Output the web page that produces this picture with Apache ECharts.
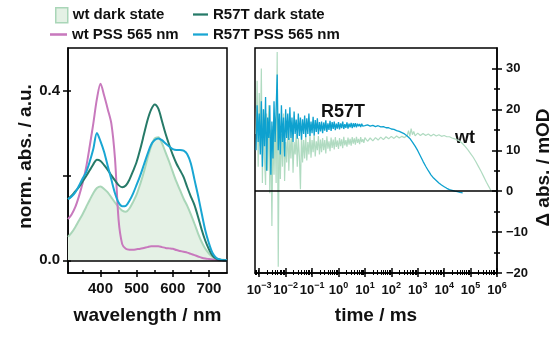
<!DOCTYPE html>
<html><head><meta charset="utf-8">
<script src="https://cdn.jsdelivr.net/npm/echarts@6/dist/echarts.min.js"></script>
<style>html,body{margin:0;padding:0;background:#fff}#c{width:554px;height:338px}</style>
</head><body><div id="c"></div>
<script>
// ---- left panel: absorption spectra ----
const wavelengths = [310,320,330,340,350,360,370,380,390,400,410,420,430,440,450,460,470,480,490,500,510,520,530,540,550,560,570,580,590,600,610,620,630,640,650,660,670,680,690,700,710,720,730,740,750];
const wtDark = [0.055,0.065,0.078,0.093,0.108,0.125,0.142,0.158,0.170,0.174,0.168,0.160,0.148,0.136,0.125,0.117,0.114,0.122,0.137,0.155,0.180,0.208,0.240,0.268,0.287,0.290,0.276,0.254,0.232,0.208,0.185,0.165,0.145,0.128,0.108,0.086,0.063,0.043,0.027,0.016,0.008,0.004,0.002,0.001,0.000];
const wtPSS = [0.097,0.108,0.125,0.150,0.180,0.218,0.268,0.322,0.380,0.416,0.388,0.356,0.322,0.240,0.095,0.038,0.027,0.025,0.025,0.026,0.027,0.029,0.031,0.033,0.033,0.033,0.031,0.029,0.028,0.027,0.024,0.022,0.020,0.018,0.015,0.012,0.009,0.006,0.004,0.003,0.002,0.001,0,0,0];
const r57tDark = [0.144,0.152,0.162,0.172,0.185,0.198,0.212,0.226,0.237,0.234,0.224,0.213,0.200,0.188,0.177,0.172,0.176,0.190,0.210,0.232,0.262,0.296,0.330,0.355,0.367,0.357,0.328,0.298,0.272,0.248,0.228,0.212,0.196,0.172,0.150,0.130,0.102,0.072,0.046,0.026,0.011,0.004,0.001,0,0];
const r57tPSS = [0.144,0.150,0.160,0.175,0.192,0.207,0.232,0.262,0.300,0.280,0.255,0.222,0.190,0.158,0.136,0.127,0.128,0.140,0.157,0.178,0.200,0.225,0.250,0.272,0.283,0.287,0.283,0.275,0.268,0.262,0.260,0.260,0.258,0.250,0.228,0.190,0.152,0.110,0.070,0.040,0.017,0.006,0.002,0,0];
const specMajorTicks = [400,500,600,700];
const specMinorTicks = [350,450,550,650];
const absTicks = [0,0.2,0.4];
const absLabels = [0,0.4];

// ---- right panel: transients, time given as exponent: t = 10^exp ms ----
const noiseExp = [-3.12,-3.08,-3.04,-3.00,-2.96,-2.92,-2.88,-2.84,-2.80,-2.76,-2.72,-2.68,-2.64,-2.60,-2.56,-2.52,-2.48,-2.44,-2.40,-2.36,-2.32,-2.28,-2.24,-2.20,-2.16,-2.12,-2.08,-2.04,-2.00,-1.96,-1.92,-1.88,-1.84,-1.80,-1.76,-1.72,-1.68,-1.64,-1.60,-1.56,-1.52,-1.48,-1.44,-1.40,-1.36,-1.32,-1.28,-1.24,-1.20,-1.16,-1.12,-1.08,-1.04,-1.00,-0.96,-0.92,-0.88,-0.84,-0.80,-0.76,-0.72,-0.68,-0.64,-0.60,-0.56,-0.52,-0.48,-0.44,-0.40,-0.36,-0.32,-0.28,-0.24,-0.20,-0.16,-0.12,-0.08,-0.04,0.00,0.04,0.08,0.12,0.16,0.20,0.24,0.28,0.32,0.36,0.40,0.44,0.48,0.52,0.56,0.60,0.64,0.68,0.72,0.76,0.80,0.84,0.88,0.92,0.96,1.00];
const r57tNoise = [10,21,12,19,9,22, 6,20,11,23,5,18,13,21,4,17,8,22, 12,20,28.5,10, 19,9,21,12,18,8.5,20,13, 19,12.5,20.5,13,18,12,19.5,14,17.5,12.8,19,13.5,18,12.6,17.6,14, 18.5,13.2,17.8,14,19,13.5,17,14.2,18.2,13.6,17.4,14.5,17.8,13.9,16.9,14.6, 17,14.2,16.8,14.8,17.3,14.5,16.6,15,17.2,14.7,16.9,15.2,17,14.9,16.5,15.3,16.9,15.1,16.6,15.4,17,15.2,16.4,15.5,16.8,15.3,16.5,15.6,16.7,15.4,16.6, 15.7,16.6,15.6,16.5,15.9,16.4,15.7,16.5,15.9,16.3,16];
const wtNoise = [14,27,6,24,11,30, 2,20,8,1.5,19,5,21,-0.5,15,-8.5,16,4, 18,2,34,-18.5, 17,3,14,6,19,2.5,12,7, 16,5,13,8,15,4.5,12,9,14,6,13,8.5,0.5,14,7,12.5, 8,13.5,7.5,12,9,14,8.2,12.5,9.5,13.8,8.5,12.2,10,13.5,9,12.6, 9.5,13,10,12.5,9.2,13.4,10.4,12.2,9.8,13.1,10.6,12.6,10.2,13.2,10.8,12.4,10.3,13,11,12.7,10.5,13.3,11.2,12.5,10.9,13.1,11.4,12.8,11.1,13.2,11.6, 12.9,11.4,13.3,11.8,12.8,11.5,13.2,12,12.7,11.8,13.1];
const r57tTailExp = [1.1,1.2,1.3,1.4,1.5,1.6,1.7,1.8,1.9,2.0,2.1,2.2,2.3,2.4,2.5,2.6,2.7,2.8,2.9,3.0,3.1,3.2,3.3,3.4,3.5,3.6,3.7,3.8,3.9,4.0,4.1,4.2,4.3,4.4,4.5,4.6,4.7];
const r57tTail = [16.2,15.9,16.1,15.8,16,15.7,15.8,15.5,15.5,15.2,15.1,14.8,14.6,14.3,14.0,13.5,12.9,12.0,11.0,9.9,8.6,7.3,6.1,5.0,4.0,3.2,2.6,2.0,1.5,1.1,0.7,0.4,0.2,0.0,-0.1,-0.3,-0.4];
const wtTailExp = [1.1,1.2,1.3,1.4,1.5,1.6,1.7,1.8,1.9,2.0,2.1,2.2,2.3,2.4,2.5,2.6,2.65,2.7,2.75,2.8,2.85,2.9,3.0,3.1,3.2,3.3,3.4,3.5,3.6,3.7,3.8,3.9,4.0,4.1,4.2,4.3,4.4,4.5,4.6,4.7,4.8,4.9,5.0,5.1,5.2,5.3,5.4,5.5,5.6,5.7,5.78];
const wtTail = [12.2,13,12.3,13.1,12.5,13.2,12.6,13.3,12.8,13.4,12.9,13.5,13.0,13.4,13.1,13.6,14.8,13.4,15.3,13.8,14.6,13.5,14.2,13.6,14.1,13.6,14,13.5,13.9,13.5,13.8,13.4,13.6,13.3,13.3,13.0,12.8,12.5,12.2,11.6,10.9,10.1,9.2,8.3,7.2,6.0,4.8,3.5,2.2,1.0,0];
const timeDecades = [-3,-2,-1,0,1,2,3,4,5,6];
const dAbsTicks = [-20,-10,0,10,20,30];
const dAbsMinor = [-15,-5,5,15,25];

const FONT = 'Liberation Sans, Arial, sans-serif';
const INK = '#111';
const C = { wtDarkLine:'#a9d6b8', wtDarkFill:'#e4f1e5', wtPSS:'#c879bd', r57tDark:'#267a68', r57tPSS:'#19a6d3', wtT:'#b0dbc1', r57tT:'#0ea1cf' };

const zip = (xs, ys) => xs.map((x, i) => [x, ys[i]]);
const minorLog = [];
for (let n = -4; n < 6; n++) for (let k = 2; k <= 9; k++) { const v = n + Math.log10(k); if (v > -3.16 && v < 6) minorLog.push(v); }

const lineAxis = { onZero: false, lineStyle: { color: '#000', width: 1.5 } };
const noLine = { show: false, onZero: false };
const hidden = { show: false };
const sup = v => (v < 0 ? '\u2212' + (-v) : '' + v);
const nameStyle = { color: INK, fontFamily: FONT, fontWeight: 'bold', fontSize: 19 };

const chart = echarts.init(document.getElementById('c'), null, { renderer: 'canvas' });
const grids = [
  { left: 68, top: 48, width: 159, height: 225, show: true, borderColor: '#000', borderWidth: 1.5 },
  { left: 255, top: 48, width: 243, height: 225, show: true, borderColor: '#000', borderWidth: 1.5 }
];
const tk = (vals, inside, len, w) => ({ customValues: vals, inside: inside, length: len, lineStyle: { color: '#000', width: w } });
const xAxes = [
  { gridIndex: 0, type: 'value', position: 'bottom', min: 310, max: 750, axisLine: lineAxis, splitLine: hidden,
    axisTick: tk(specMajorTicks, false, 4, 1.5),
    axisLabel: { customValues: specMajorTicks, color: INK, fontFamily: FONT, fontWeight: 'bold', fontSize: 15, margin: 8 },
    name: 'wavelength / nm', nameLocation: 'middle', nameGap: 33, nameTextStyle: nameStyle },
  { gridIndex: 0, type: 'value', position: 'bottom', min: 310, max: 750, axisLine: noLine, splitLine: hidden, axisLabel: hidden,
    axisTick: tk(specMajorTicks.concat(specMinorTicks), true, 3, 1.5) },
  { gridIndex: 1, type: 'value', position: 'bottom', min: -3.16, max: 6, axisLine: lineAxis, splitLine: hidden,
    axisTick: tk(timeDecades, false, 4, 1.5),
    axisLabel: { customValues: timeDecades, margin: 8, formatter: v => '{b|10}{s|' + sup(v) + '}',
      rich: { b: { fontSize: 13, fontWeight: 'bold', fontFamily: FONT, color: INK, verticalAlign: 'bottom', lineHeight: 16 },
              s: { fontSize: 9, fontWeight: 'bold', fontFamily: FONT, color: INK, verticalAlign: 'top' } } },
    name: 'time / ms', nameLocation: 'middle', nameGap: 33, nameTextStyle: nameStyle },
  { gridIndex: 1, type: 'value', position: 'bottom', min: -3.16, max: 6, axisLine: noLine, splitLine: hidden, axisLabel: hidden,
    axisTick: tk(timeDecades, true, 5, 1.5) },
  { gridIndex: 1, type: 'value', position: 'bottom', min: -3.16, max: 6, axisLine: noLine, splitLine: hidden, axisLabel: hidden,
    axisTick: tk(minorLog, true, 3, 1) },
  { gridIndex: 1, type: 'value', position: 'bottom', min: -3.16, max: 6, axisLine: noLine, splitLine: hidden, axisLabel: hidden,
    axisTick: tk(minorLog, false, 2, 1) }
];
const yAxes = [
  { gridIndex: 0, type: 'value', position: 'left', min: -0.03, max: 0.5, axisLine: lineAxis, splitLine: hidden,
    axisTick: tk(absTicks, false, 5, 1.5),
    axisLabel: { customValues: absLabels, formatter: v => v.toFixed(1), color: INK, fontFamily: FONT, fontWeight: 'bold', fontSize: 15, margin: 8 },
    name: 'norm. abs. / a.u.', nameLocation: 'middle', nameGap: 31, nameRotate: 90,
    nameTextStyle: Object.assign({ padding: [0, 0, 0, 8] }, nameStyle) },
  { gridIndex: 0, type: 'value', position: 'left', min: -0.03, max: 0.5, axisLine: noLine, splitLine: hidden, axisLabel: hidden,
    axisTick: tk(absTicks, true, 3, 1.5) },
  { gridIndex: 1, type: 'value', position: 'right', min: -20, max: 35, axisLine: lineAxis, splitLine: hidden,
    axisTick: tk(dAbsTicks, false, 5, 1.5),
    axisLabel: { customValues: dAbsTicks, formatter: v => sup(v), color: INK, fontFamily: FONT, fontWeight: 'bold', fontSize: 13, margin: 9 },
    name: '\u0394 abs. / mOD', nameLocation: 'middle', nameGap: 37, nameRotate: 90,
    nameTextStyle: Object.assign({ padding: [0, 14, 0, 0] }, nameStyle) },
  { gridIndex: 1, type: 'value', position: 'right', min: -20, max: 35, axisLine: noLine, splitLine: hidden, axisLabel: hidden,
    axisTick: tk(dAbsTicks, true, 5, 1.5) },
  { gridIndex: 1, type: 'value', position: 'right', min: -20, max: 35, axisLine: noLine, splitLine: hidden, axisLabel: hidden,
    axisTick: tk(dAbsMinor, false, 3, 1.5) },
  { gridIndex: 1, type: 'value', position: 'right', min: -20, max: 35, axisLine: noLine, splitLine: hidden, axisLabel: hidden,
    axisTick: tk(dAbsMinor, true, 3, 1.5) }
];
const zeroLine = { silent: true, symbol: ['none', 'none'], label: { show: false }, lineStyle: { color: '#000', width: 1.5, type: 'solid' }, data: [{ yAxis: 0 }] };
const spec = (name, data, color, extra) => Object.assign({ name, type: 'line', xAxisIndex: 0, yAxisIndex: 0, data: zip(wavelengths, data), showSymbol: false, symbol: 'none', smooth: 0.3, lineStyle: { color, width: 2 }, itemStyle: { color }, z: 3 }, extra || {});
const legText = { color: INK, fontFamily: FONT, fontWeight: 'bold', fontSize: 15 };
const LINE_ICON = 'path://M0,0 L20,0 L20,3 L0,3 Z';
const leg = (name, left, top, w, h, extra) => ({ left, top, itemWidth: w, itemHeight: h, textStyle: legText, padding: 0, selectedMode: false, data: [Object.assign({ name }, extra || {})] });

chart.setOption({
  animation: false,
  grid: grids,
  xAxis: xAxes,
  yAxis: yAxes,
  legend: [
    leg('wt dark state', 55, 7, 12, 15, { icon: 'rect', itemStyle: { color: C.wtDarkFill, borderColor: C.wtDarkLine, borderWidth: 1.5 } }),
    leg('wt PSS 565 nm', 50, 27, 17, 3, { icon: LINE_ICON, itemStyle: { color: C.wtPSS, borderWidth: 0 } }),
    leg('R57T dark state', 193, 7, 15, 3, { icon: LINE_ICON, itemStyle: { color: C.r57tDark, borderWidth: 0 } }),
    leg('R57T PSS 565 nm', 193, 27, 15, 3, { icon: LINE_ICON, itemStyle: { color: C.r57tPSS, borderWidth: 0 } })
  ],
  graphic: [
    { type: 'text', left: 321, top: 103, style: { text: 'R57T', fill: INK, font: 'bold 18px ' + FONT } },
    { type: 'text', left: 455, top: 129, style: { text: 'wt', fill: INK, font: 'bold 18px ' + FONT } }
  ],
  series: [
    spec('wt dark state', wtDark, C.wtDarkLine, { areaStyle: { color: C.wtDarkFill, opacity: 1 }, z: 2, markLine: zeroLine }),
    spec('wt PSS 565 nm', wtPSS, C.wtPSS),
    spec('R57T dark state', r57tDark, C.r57tDark),
    spec('R57T PSS 565 nm', r57tPSS, C.r57tPSS),
    { name: 'wt transient', type: 'line', xAxisIndex: 2, yAxisIndex: 2, showSymbol: false, symbol: 'none',
      data: zip(noiseExp.concat(wtTailExp), wtNoise.concat(wtTail)), lineStyle: { color: C.wtT, width: 1.2 }, markLine: zeroLine, z: 2 },
    { name: 'R57T transient', type: 'line', xAxisIndex: 2, yAxisIndex: 2, showSymbol: false, symbol: 'none',
      data: zip(noiseExp.concat(r57tTailExp), r57tNoise.concat(r57tTail)), lineStyle: { color: C.r57tT, width: 1.3 }, z: 3 }
  ]
});
</script></body></html>
